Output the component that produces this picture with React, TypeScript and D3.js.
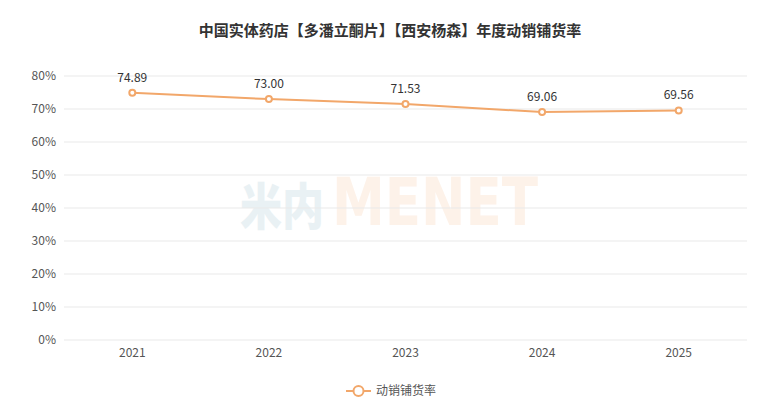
import React from "react";
import * as d3 from "d3";

const title = "中国实体药店【多潘立酮片】【西安杨森】年度动销铺货率";
const years = ["2021", "2022", "2023", "2024", "2025"];
const rates = [74.89, 73.0, 71.53, 69.06, 69.56];
const yTicks = [0, 10, 20, 30, 40, 50, 60, 70, 80];
const seriesName = "动销铺货率";

const W = 780;
const H = 400;
const FONT = "'Noto Sans CJK SC', 'Microsoft YaHei', sans-serif";
const COLOR = "#f2a76a";

export default function App() {
  const x = d3.scaleBand<string>().domain(years).range([64, 747]);
  const y = d3.scaleLinear().domain([0, 80]).range([340, 76]);
  const cx = (d: string) => (x(d) as number) + x.bandwidth() / 2;
  const line = d3
    .line<number>()
    .x((_, i) => cx(years[i]))
    .y((v) => y(v));

  return (
    <svg
      width={W}
      height={H}
      style={{ position: "absolute", left: 0, top: 0, background: "#fff" }}
      fontFamily={FONT}
    >
      <text x={390} y={36} textAnchor="middle" fontSize={15} fontWeight="bold" fill="#333">
        {title}
      </text>
      {/* watermark */}
      <g fontWeight="900">
        <text x={240} y={225} fill="#e6eff3" opacity={0.85} fontSize={50} textLength={84} lengthAdjust="spacingAndGlyphs">
          米内
        </text>
        <text
          x={332}
          y={225}
          fill="#fdeee2"
          opacity={0.75}
          fontFamily="'DejaVu Sans', sans-serif"
          fontSize={66}
          textLength={206}
          lengthAdjust="spacingAndGlyphs"
        >
          MENET
        </text>
      </g>
      {yTicks.map((t) => (
        <g key={t}>
          <line x1={64} x2={747} y1={y(t)} y2={y(t)} stroke="#e9e9e9" strokeWidth={1} />
          <text x={56} y={y(t)} dy="0.35em" textAnchor="end" fontSize={12} fill="#555">
            {t}%
          </text>
        </g>
      ))}
      {years.map((yr) => (
        <text key={yr} x={cx(yr)} y={357} textAnchor="middle" fontSize={12} fill="#555">
          {yr}
        </text>
      ))}
      <path d={line(rates) || ""} fill="none" stroke={COLOR} strokeWidth={2} />
      {rates.map((v, i) => (
        <g key={i}>
          <circle cx={cx(years[i])} cy={y(v)} r={3} fill="#fff" stroke={COLOR} strokeWidth={2} />
          <text x={cx(years[i])} y={y(v) - 11} textAnchor="middle" fontSize={12} fill="#333">
            {v.toFixed(2)}
          </text>
        </g>
      ))}
      {/* legend */}
      <g>
        <line x1={346} x2={371} y1={391} y2={391} stroke={COLOR} strokeWidth={2} />
        <circle cx={358.5} cy={391} r={5} fill="#fff" stroke={COLOR} strokeWidth={2} />
        <text x={376} y={391} dy="0.35em" fontSize={12} fill="#555">
          {seriesName}
        </text>
      </g>
    </svg>
  );
}
